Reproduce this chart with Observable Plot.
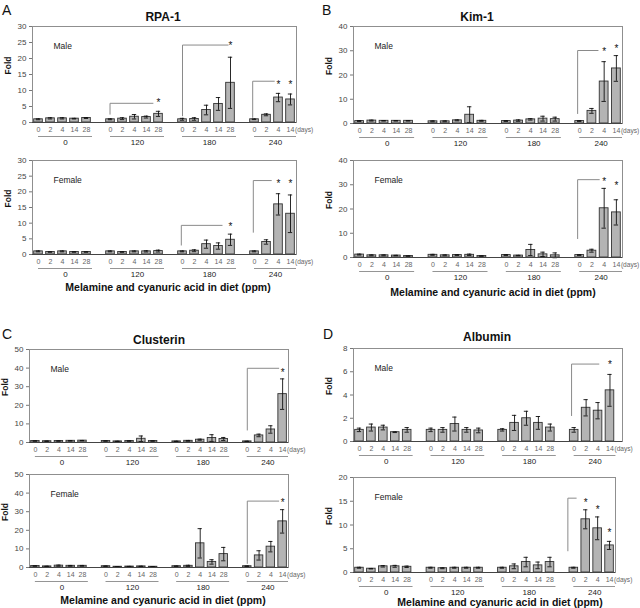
<!DOCTYPE html>
<html><head><meta charset="utf-8">
<script src="https://cdn.jsdelivr.net/npm/d3@7"></script>
<script src="https://cdn.jsdelivr.net/npm/@observablehq/plot@0.6"></script>
<style>
html,body{margin:0;padding:0;background:#fff;}
#fig{position:relative;width:640px;height:608px;overflow:hidden;font-family:"Liberation Sans",Arial,sans-serif;color:#111;}
.abs{position:absolute;white-space:nowrap;line-height:1;}
.c{transform:translate(-50%,-50%);}
.letter{font-size:14px;}
.title{font-size:12px;font-weight:bold;}
.xt{font-size:10.5px;font-weight:bold;}
</style></head><body><div id="fig"></div>
<script>
// ---------- data ----------
const doseGroups = ["0", "120", "180", "240"];
const dayLabels = [
  ["0", "2", "4", "14", "28"],
  ["0", "2", "4", "14", "28"],
  ["0", "2", "4", "14", "28"],
  ["0", "2", "4", "14"]
];

const rpa1MaleMean = [1.0,1.3,1.3,1.2,1.4, 1.0,1.2,1.8,1.7,2.7, 1.0,1.1,3.9,5.8,12.4, 1.0,2.4,7.8,7.2];
const rpa1MaleErr  = [0.15,0.2,0.2,0.1,0.15, 0.15,0.3,0.7,0.3,0.8, 0.3,0.4,1.5,2.0,8.0, 0.1,0.3,1.3,1.7];
const rpa1FemaleMean = [1.0,0.8,1.0,0.8,0.8, 1.0,0.8,1.0,1.0,1.1, 1.0,1.2,3.3,2.7,4.7, 1.0,4.0,16.0,13.0];
const rpa1FemaleErr  = [0.15,0.1,0.15,0.1,0.1, 0.15,0.1,0.15,0.2,0.3, 0.15,0.3,1.3,1.0,1.8, 0.15,0.7,3.4,6.0];

const kim1MaleMean = [1.0,1.2,1.1,1.1,1.1, 0.9,0.9,1.3,3.6,1.1, 1.0,1.2,1.7,2.0,1.8, 1.0,5.2,17.3,22.7];
const kim1MaleErr  = [0.2,0.2,0.1,0.1,0.1, 0.2,0.2,0.2,3.3,0.2, 0.2,0.3,0.3,1.0,0.8, 0.2,1.0,8.2,5.3];
const kim1FemaleMean = [1.2,0.9,0.9,0.8,0.6, 1.1,0.9,1.0,1.1,0.6, 1.0,0.8,3.1,1.3,0.9, 1.0,2.8,20.3,18.6];
const kim1FemaleErr  = [0.2,0.2,0.2,0.1,0.1, 0.2,0.2,0.2,0.3,0.1, 0.2,0.1,2.3,0.9,1.0, 0.2,0.6,8.2,5.2];

const clusterinMaleMean = [0.8,0.7,0.8,0.9,1.0, 0.8,0.6,0.8,2.0,0.8, 0.6,0.9,1.5,2.4,1.9, 0.6,3.8,7.0,26.0];
const clusterinMaleErr  = [0.1,0.1,0.1,0.1,0.1, 0.1,0.1,0.1,1.5,0.1, 0.1,0.2,0.3,1.8,0.8, 0.1,0.7,2.0,8.2];
const clusterinFemaleMean = [0.8,0.6,1.0,0.9,0.9, 0.7,0.4,0.5,0.6,0.4, 0.7,0.9,13.0,3.0,7.2, 0.7,6.5,11.2,24.8];
const clusterinFemaleErr  = [0.1,0.1,0.3,0.2,0.2, 0.1,0.1,0.1,0.1,0.1, 0.1,0.3,7.9,1.2,3.6, 0.1,2.5,2.8,6.3];

const albuminMaleMean = [1.0,1.2,1.2,0.8,1.0, 1.0,1.0,1.5,1.0,0.95, 1.0,1.6,2.0,1.6,1.2, 1.0,2.9,2.65,4.4];
const albuminMaleErr  = [0.15,0.3,0.2,0.03,0.2, 0.15,0.2,0.6,0.2,0.2, 0.1,0.65,0.6,0.55,0.3, 0.2,0.7,0.7,1.37];
const albuminFemaleMean = [1.0,0.8,1.3,1.3,1.2, 1.0,0.9,1.0,1.0,1.0, 1.0,1.3,2.2,1.5,2.2, 1.0,11.2,9.3,5.7];
const albuminFemaleErr  = [0.1,0.05,0.15,0.2,0.15, 0.1,0.1,0.1,0.1,0.1, 0.1,0.5,1.0,0.7,1.0, 0.1,2.0,2.4,0.85];

// significance brackets (slot units, fold units) and stars
const rpa1MaleBrackets = [{from:5.96,to:9.54,low:2.6,top:6.0},{from:12.0,to:15.8,low:2.1,top:24.2},{from:17.85,to:19.65,low:1.6,top:12.9}];
const rpa1MaleStars = [{slot:10,y:6.8},{slot:16,y:24.8},{slot:20,y:12.5},{slot:21,y:12.5}];
const rpa1FemaleBrackets = [{from:11.9,to:15.3,low:3.0,top:9.3},{from:17.9,to:19.4,low:7.1,top:23.6}];
const rpa1FemaleStars = [{slot:16,y:9.6},{slot:20,y:23.3},{slot:21,y:23.3}];
const kim1MaleBrackets = [{from:17.83,to:19.5,low:4.1,top:30.1}];
const kim1MaleStars = [{slot:20,y:30.4},{slot:21,y:31.9}];
const kim1FemaleBrackets = [{from:17.83,to:19.6,low:7.8,top:32.1}];
const kim1FemaleStars = [{slot:20,y:32.1},{slot:21,y:30.8}];
const clusterinMaleBrackets = [{from:18,to:20.67,low:6.7,top:39.9}];
const clusterinMaleStars = [{slot:21,y:39.0}];
const clusterinFemaleBrackets = [{from:18,to:20.67,low:2.2,top:35.7}];
const clusterinFemaleStars = [{slot:21,y:36.2}];
const albuminMaleBrackets = [{from:17.78,to:20.07,low:2.23,top:6.66}];
const albuminMaleStars = [{slot:21,y:6.8}];
const albuminFemaleBrackets = [{from:17.5,to:18.2,low:4.56,top:15.65}];
const albuminFemaleStars = [{slot:19,y:15.2},{slot:20,y:13.8},{slot:21,y:8.9}];

const xTitle = "Melamine and cyanuric acid in diet (ppm)";

// ---------- layout ----------
const FONT = '"Liberation Sans", Arial, sans-serif';
const subplots = [
  {sex:"Male", mean:rpa1MaleMean, err:rpa1MaleErr, brackets:rpa1MaleBrackets, stars:rpa1MaleStars, yMax:30, yStep:5, frame:[32,26,296,122]},
  {sex:"Female", mean:rpa1FemaleMean, err:rpa1FemaleErr, brackets:rpa1FemaleBrackets, stars:rpa1FemaleStars, yMax:30, yStep:5, frame:[32,160,296,254]},
  {sex:"Male", mean:kim1MaleMean, err:kim1MaleErr, brackets:kim1MaleBrackets, stars:kim1MaleStars, yMax:40, yStep:10, frame:[353,26,622,123]},
  {sex:"Female", mean:kim1FemaleMean, err:kim1FemaleErr, brackets:kim1FemaleBrackets, stars:kim1FemaleStars, yMax:40, yStep:10, frame:[353,160,622,257]},
  {sex:"Male", mean:clusterinMaleMean, err:clusterinMaleErr, brackets:clusterinMaleBrackets, stars:clusterinMaleStars, yMax:50, yStep:10, frame:[29,349,288,442]},
  {sex:"Female", mean:clusterinFemaleMean, err:clusterinFemaleErr, brackets:clusterinFemaleBrackets, stars:clusterinFemaleStars, yMax:50, yStep:10, frame:[29,474,288,567]},
  {sex:"Male", mean:albuminMaleMean, err:albuminMaleErr, brackets:albuminMaleBrackets, stars:albuminMaleStars, yMax:8, yStep:2, frame:[353,348,622,441], xMax:22.05},
  {sex:"Female", mean:albuminFemaleMean, err:albuminFemaleErr, brackets:albuminFemaleBrackets, stars:albuminFemaleStars, yMax:20, yStep:5, frame:[353,477,615,572]}
];
const htmlLabels = [
  {t:"A", cls:"letter", x:2, y:3}, {t:"B", cls:"letter", x:322, y:3},
  {t:"C", cls:"letter", x:2, y:327}, {t:"D", cls:"letter", x:323, y:327},
  {t:"RPA-1", cls:"title c", x:163, y:17}, {t:"Kim-1", cls:"title c", x:477, y:17},
  {t:"Clusterin", cls:"title c", x:159, y:340}, {t:"Albumin", cls:"title c", x:487, y:337},
  {t:xTitle, cls:"xt c", x:168, y:287}, {t:xTitle, cls:"xt c", x:493, y:292},
  {t:xTitle, cls:"xt c", x:163, y:600}, {t:xTitle, cls:"xt c", x:500, y:602}
];

const fig = document.getElementById("fig");

function makeBars(mean, err) {
  const out = []; let k = 0;
  dayLabels.forEach((days, g) => days.forEach((day, j) => {
    out.push({slot: g * 6 + j, day, mean: mean[k], err: err[k]}); k++;
  }));
  return out;
}
const groupRows = dayLabels.map((days, g) => {
  const from = g * 6, to = g * 6 + days.length - 1 + 0.5;
  return {label: doseGroups[g], from, to, center: (from + to) / 2};
});

function drawSub(sp) {
  const [L, T, R, B] = sp.frame;
  const svgLeft = L < 320 ? 0 : 320;
  const padTop = 10, padBottom = 34;
  const bars = makeBars(sp.mean, sp.err);
  const last = bars[bars.length - 1];
  const bracketPts = sp.brackets.flatMap((b, i) => [
    {id: i, x: b.from, y: b.low}, {id: i, x: b.from, y: b.top}, {id: i, x: b.to, y: b.top}
  ]);
  const chart = Plot.plot({
    width: 320,
    height: (B - T) + padTop + padBottom,
    marginLeft: L - svgLeft,
    marginRight: svgLeft + 320 - R,
    marginTop: padTop,
    marginBottom: padBottom,
    x: {domain: [-0.5, sp.xMax ?? 21.5], axis: null},
    y: {domain: [0, sp.yMax]},
    style: {background: "transparent", overflow: "visible", fontFamily: FONT, color: "#444"},
    marks: [
      Plot.frame({stroke: "#8f8f8f", strokeWidth: 1}),
      Plot.axisY({ticks: d3.range(0, sp.yMax + sp.yStep / 2, sp.yStep), tickSize: 3, tickPadding: 3, fontSize: 8, label: null, stroke: "#777", fill: "#444"}),
      Plot.rectY(bars, {x1: d => d.slot - 0.36, x2: d => d.slot + 0.36, y: "mean", fill: "#b4b4b4", stroke: "#333", strokeWidth: 0.9}),
      Plot.ruleX(bars, {x: "slot", y1: d => d.mean - d.err, y2: d => d.mean + d.err, stroke: "#111", strokeWidth: 0.9}),
      Plot.ruleY(bars, {y: d => d.mean + d.err, x1: d => d.slot - 0.18, x2: d => d.slot + 0.18, stroke: "#111", strokeWidth: 0.9}),
      Plot.ruleY(bars, {y: d => d.mean - d.err, x1: d => d.slot - 0.18, x2: d => d.slot + 0.18, stroke: "#111", strokeWidth: 0.9}),
      Plot.ruleY([0], {stroke: "#444", strokeWidth: 1}),
      Plot.line(bracketPts, {x: "x", y: "y", z: "id", stroke: "#8a8a8a", strokeWidth: 1, curve: "linear"}),
      Plot.text(sp.stars, {x: "slot", y: "y", text: () => "*", fontSize: 10, fill: "#111", dy: 2.5}),
      Plot.text(bars, {x: "slot", frameAnchor: "bottom", dy: 9, text: "day", fontSize: 7, fill: "#666"}),
      Plot.text([last], {x: "slot", frameAnchor: "bottom", dy: 9, dx: 4.5, textAnchor: "start", text: () => "(days)", fontSize: 6.6, fill: "#666"}),
      Plot.ruleY(groupRows, {x1: "from", x2: "to", y: () => 0, dy: 14, stroke: "#7a7a7a", strokeWidth: 0.8}),
      Plot.text(groupRows, {x: "center", frameAnchor: "bottom", dy: 22, text: "label", fontSize: 8, fill: "#222"}),
      Plot.text([sp.sex], {frameAnchor: "top-left", dx: 21, dy: 16, textAnchor: "start", text: d => d, fontSize: 8.5, fill: "#222"}),
      Plot.text(["Fold"], {frameAnchor: "left", dx: -24, rotate: -90, text: d => d, fontSize: 8.5, fontWeight: "bold", fill: "#111"})
    ]
  });
  chart.style.position = "absolute";
  chart.style.left = svgLeft + "px";
  chart.style.top = (T - padTop) + "px";
  chart.style.maxWidth = "none";
  fig.appendChild(chart);
}

subplots.forEach(drawSub);

htmlLabels.forEach(l => {
  const d = document.createElement("div");
  d.className = "abs " + l.cls;
  d.style.left = l.x + "px";
  d.style.top = l.y + "px";
  d.textContent = l.t;
  fig.appendChild(d);
});
</script></body></html>
